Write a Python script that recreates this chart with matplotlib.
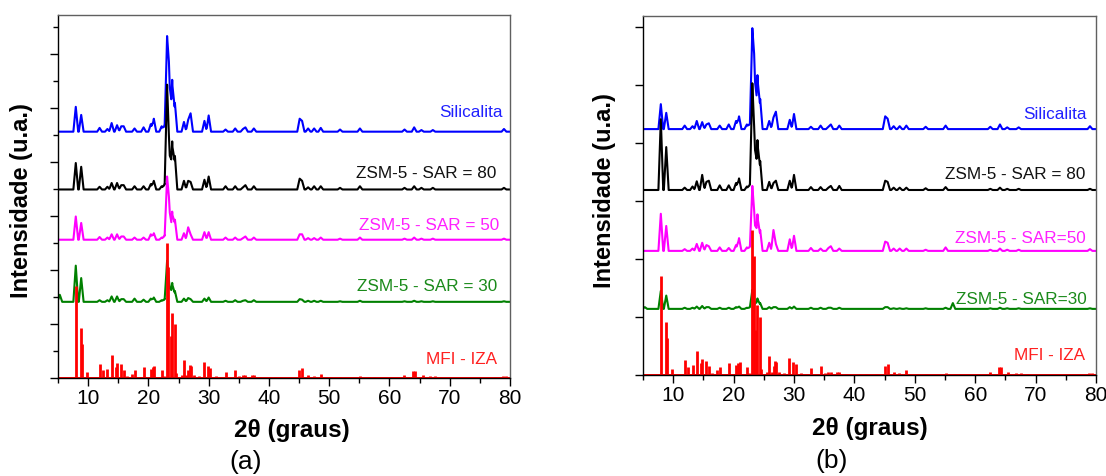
import matplotlib
matplotlib.use("Agg")
import matplotlib.pyplot as plt
import numpy as np

plt.rcParams["font.family"] = ["Liberation Sans", "DejaVu Sans"]

# 2theta positions of the peaks seen in the sample patterns (shared by all traces)
sample_pos = [5.3, 7.95, 8.85, 11.9, 13.2, 13.9, 14.8, 15.5, 15.9, 17.7, 19.2, 20.4,
              20.9, 22.2, 22.7, 23.1, 23.4, 23.95, 24.4, 25.9, 26.6, 27.0, 29.3, 30.0,
              32.8, 34.4, 35.7, 36.1, 37.5, 45.1, 45.5, 46.5, 47.5, 48.6, 51.8, 55.1,
              56.3, 62.5, 64.1, 65.3, 67.2, 79.0]

# peak heights above each trace's baseline (axis units), panel (a)
a_sil = [0, 0.46, 0.31, 0.07, 0.05, 0.16, 0.12, 0.10, 0.10, 0.06, 0.08, 0.14,
         0.24, 0.10, 0.12, 1.77, 1.30, 0.96, 0.53, 0.18, 0.22, 0.34, 0.20, 0.30,
         0.04, 0.06, 0.05, 0.08, 0.06, 0.24, 0.20, 0.06, 0.06, 0.07, 0.04, 0.06,
         0, 0.04, 0.08, 0.03, 0.03, 0.05]
a_80 = [0, 0.49, 0.42, 0.05, 0.05, 0.12, 0.12, 0.08, 0.08, 0.06, 0.06, 0.10,
        0.16, 0.06, 0.10, 1.94, 1.00, 0.89, 0.62, 0.16, 0.16, 0.14, 0.18, 0.24,
        0.06, 0.06, 0.04, 0.08, 0.06, 0.20, 0.16, 0.04, 0.06, 0.06, 0.03, 0.06,
        0, 0.03, 0.06, 0.03, 0.03, 0.03]
a_50 = [0, 0.43, 0.31, 0.05, 0.04, 0.10, 0.10, 0.06, 0.06, 0.04, 0.04, 0.10,
        0.12, 0.04, 0.08, 1.17, 0.80, 0.52, 0.37, 0.12, 0.23, 0.10, 0.14, 0.14,
        0.04, 0.04, 0.03, 0.06, 0.04, 0.10, 0.10, 0.03, 0.03, 0.04, 0.02, 0.04,
        0, 0.02, 0.04, 0.02, 0.02, 0.02]
a_30 = [0.13, 0.67, 0.44, 0.03, 0.03, 0.10, 0.10, 0.05, 0.05, 0.06, 0.04, 0.06,
        0.08, 0.03, 0.05, 0.76, 0.40, 0.35, 0.20, 0.06, 0.07, 0.05, 0.06, 0.08,
        0.02, 0.03, 0.02, 0.03, 0.03, 0.05, 0.04, 0.02, 0.02, 0.02, 0.01, 0.02,
        0, 0.01, 0.02, 0.01, 0.01, 0.01]

# panel (b)
b_sil = [0, 0.43, 0.28, 0.06, 0.05, 0.14, 0.12, 0.08, 0.10, 0.06, 0.08, 0.14,
         0.22, 0.08, 0.10, 1.74, 1.30, 0.93, 0.52, 0.14, 0.20, 0.30, 0.16, 0.26,
         0.04, 0.06, 0.04, 0.08, 0.06, 0.22, 0.18, 0.05, 0.05, 0.06, 0.04, 0.06,
         0, 0.04, 0.08, 0.03, 0.03, 0.05]
b_80 = [0, 1.22, 0.74, 0.04, 0.06, 0.15, 0.26, 0.14, 0.16, 0.08, 0.08, 0.12,
        0.20, 0.06, 0.10, 1.84, 1.10, 0.86, 0.50, 0.14, 0.12, 0.16, 0.16, 0.26,
        0.05, 0.05, 0.04, 0.07, 0.07, 0.16, 0.14, 0.04, 0.04, 0.04, 0.03, 0.05,
        0, 0.02, 0.04, 0.02, 0.02, 0.02]
b_50 = [0, 0.64, 0.43, 0.03, 0.04, 0.12, 0.14, 0.10, 0.08, 0.06, 0.05, 0.10,
        0.22, 0.06, 0.08, 1.12, 0.70, 0.63, 0.36, 0.14, 0.36, 0.12, 0.20, 0.26,
        0.05, 0.04, 0.05, 0.08, 0.04, 0.16, 0.14, 0.04, 0.04, 0.04, 0.02, 0.06,
        0, 0.02, 0.04, 0.02, 0.02, 0.03]
b_30 = [0.03, 0.31, 0.23, 0.02, 0.02, 0.04, 0.05, 0.03, 0.03, 0.02, 0.02, 0.03,
        0.04, 0.02, 0.03, 0.33, 0.15, 0.18, 0.10, 0.03, 0.03, 0.03, 0.03, 0.04,
        0.02, 0.02, 0.02, 0.02, 0.02, 0.03, 0.03, 0.01, 0.01, 0.01, 0.01, 0.02,
        0.10, 0.01, 0.02, 0.01, 0.01, 0.01]

# baselines of the stacked traces (axis units)
a_base = [4.56, 3.49, 2.56, 1.41]
b_base = [4.24, 3.19, 2.14, 1.14]

# MFI reference pattern (IZA) sticks
mfi_pos = [7.94, 8.80, 9.05, 9.85, 11.9, 12.5, 13.2, 13.9, 14.6, 14.8, 15.5, 15.9,
           16.5, 17.3, 17.8, 19.3, 20.35, 20.8, 21.0, 22.2, 22.6, 23.1, 23.3, 23.7,
           23.95, 24.4, 24.6, 25.6, 25.9, 26.3, 26.65, 26.9, 27.05, 27.5, 28.4, 29.25,
           29.9, 30.3, 31.2, 32.1, 32.8, 34.4, 35.1, 35.7, 36.1, 37.2, 37.5, 38.6,
           41.0, 42.0, 43.5, 45.05, 45.5, 46.5, 47.4, 48.6, 50.3, 51.8, 54.7, 55.1,
           56.6, 57.5, 60.5, 62.4, 63.9, 64.3, 65.5, 66.7, 67.5, 68.5, 77.5, 78.8, 79.3]
mfi_int = [1.71, 0.92, 0.63, 0.11, 0.26, 0.14, 0.17, 0.42, 0.20, 0.28, 0.25, 0.15,
           0.04, 0.08, 0.14, 0.20, 0.17, 0.20, 0.22, 0.14, 0.04, 2.50, 2.05, 0.77,
           1.20, 1.00, 0.10, 0.06, 0.33, 0.06, 0.15, 0.24, 0.23, 0.05, 0.03, 0.30,
           0.23, 0.19, 0.04, 0.02, 0.12, 0.15, 0.04, 0.06, 0.05, 0.05, 0.06, 0.02,
           0.02, 0.02, 0.02, 0.15, 0.19, 0.06, 0.04, 0.08, 0.02, 0.02, 0.02, 0.04,
           0.02, 0.02, 0.02, 0.05, 0.13, 0.13, 0.06, 0.04, 0.03, 0.02, 0.02, 0.04, 0.03]

names_a = ["Silicalita", "ZSM-5 - SAR = 80", "ZSM-5 - SAR = 50", "ZSM-5 - SAR = 30", "MFI - IZA"]
names_b = ["Silicalita", "ZSM-5 - SAR = 80", "ZSM-5 - SAR=50", "ZSM-5 - SAR=30", "MFI - IZA"]
label_x_a = [78.8, 77.7, 78.2, 77.9, 77.9]
label_y_a = [4.92, 3.78, 2.83, 1.69, 0.35]
label_x_b = [78.5, 78.3, 78.3, 78.5, 78.2]
label_y_b = [4.50, 3.45, 2.36, 1.31, 0.34]
colors = ["#0000ff", "#000000", "#ff00ff", "#008000", "#ff0000"]
text_colors = ["#2020ff", "#111111", "#ff20ff", "#1a8a1a", "#ff2020"]

W, H = 1106, 476
HW = 0.4  # half width of a drawn peak, degrees


def trace_xy(pos, hts, base):
    # piecewise-linear upper envelope of triangular peaks on a flat baseline
    pos = np.asarray(pos)
    hts = np.asarray(hts)
    xs = np.unique(np.concatenate([[5.0, 80.0], pos, pos - HW, pos + HW]))
    xs = xs[(xs >= 5.0) & (xs <= 80.0)]
    tri = hts[None, :] * np.clip(1 - np.abs(xs[:, None] - pos[None, :]) / HW, 0, None)
    return xs, base + tri.max(axis=1)


def panel(rect, traces, bases, names, label_x, label_y, ymax, minor_y):
    ax = fig.add_axes(rect)
    for hts, base, c in zip(traces, bases, colors):
        x, y = trace_xy(sample_pos, hts, base)
        ax.plot(x, y, color=c, lw=1.5, solid_joinstyle="round")
    ax.vlines(mfi_pos, 0, mfi_int, color=colors[4], lw=2.0)
    ax.hlines(0.005, 5, 80, color=colors[4], lw=1.4)
    for name, lx, ly, tc in zip(names, label_x, label_y, text_colors):
        ax.text(lx, ly, name, color=tc, ha="right", va="center", fontsize=12.3)
    ax.set_xlim(5, 80)
    ax.set_ylim(0, ymax)
    ax.set_xticks(np.arange(10, 81, 10))
    ax.set_xticks(np.arange(5, 81, 5), minor=True)
    ax.set_yticks(np.arange(0, 7, 1))
    if minor_y:
        ax.set_yticks(np.arange(0.5, ymax, 1), minor=True)
    ax.set_yticklabels([])
    ax.tick_params(axis="both", which="major", direction="out", length=6, width=1,
                   labelsize=15, pad=2)
    ax.tick_params(axis="both", which="minor", direction="out", length=3.5, width=1)
    for s in ("top", "right"):
        ax.spines[s].set_color("#606060")
    for s in ax.spines.values():
        s.set_linewidth(1.0)
    return ax


fig = plt.figure(figsize=(W / 100, H / 100), dpi=100)

panel([58 / W, 1 - 378 / H, (510 - 58) / W, (378 - 15) / H],
      [a_sil, a_80, a_50, a_30], a_base, names_a, label_x_a, label_y_a, 6.72, True)
panel([643 / W, 1 - 375 / H, (1096 - 643) / W, (375 - 16) / H],
      [b_sil, b_80, b_50, b_30], b_base, names_b, label_x_b, label_y_b, 6.19, False)

for xl, yl, xx, yy in [(22, 201, 292, 430), (604, 191, 870, 428)]:
    fig.text(xl / W, 1 - yl / H, "Intensidade (u.a.)", rotation=90, ha="center",
             va="center", fontsize=17, fontweight="bold")
    fig.text(xx / W, 1 - yy / H, "2θ (graus)", ha="center", va="center",
             fontsize=17.5, fontweight="bold")
fig.text(246 / W, 1 - 462 / H, "(a)", ha="center", va="center", fontsize=19)
fig.text(832 / W, 1 - 461 / H, "(b)", ha="center", va="center", fontsize=19)

fig.savefig("out.png", dpi=100)
